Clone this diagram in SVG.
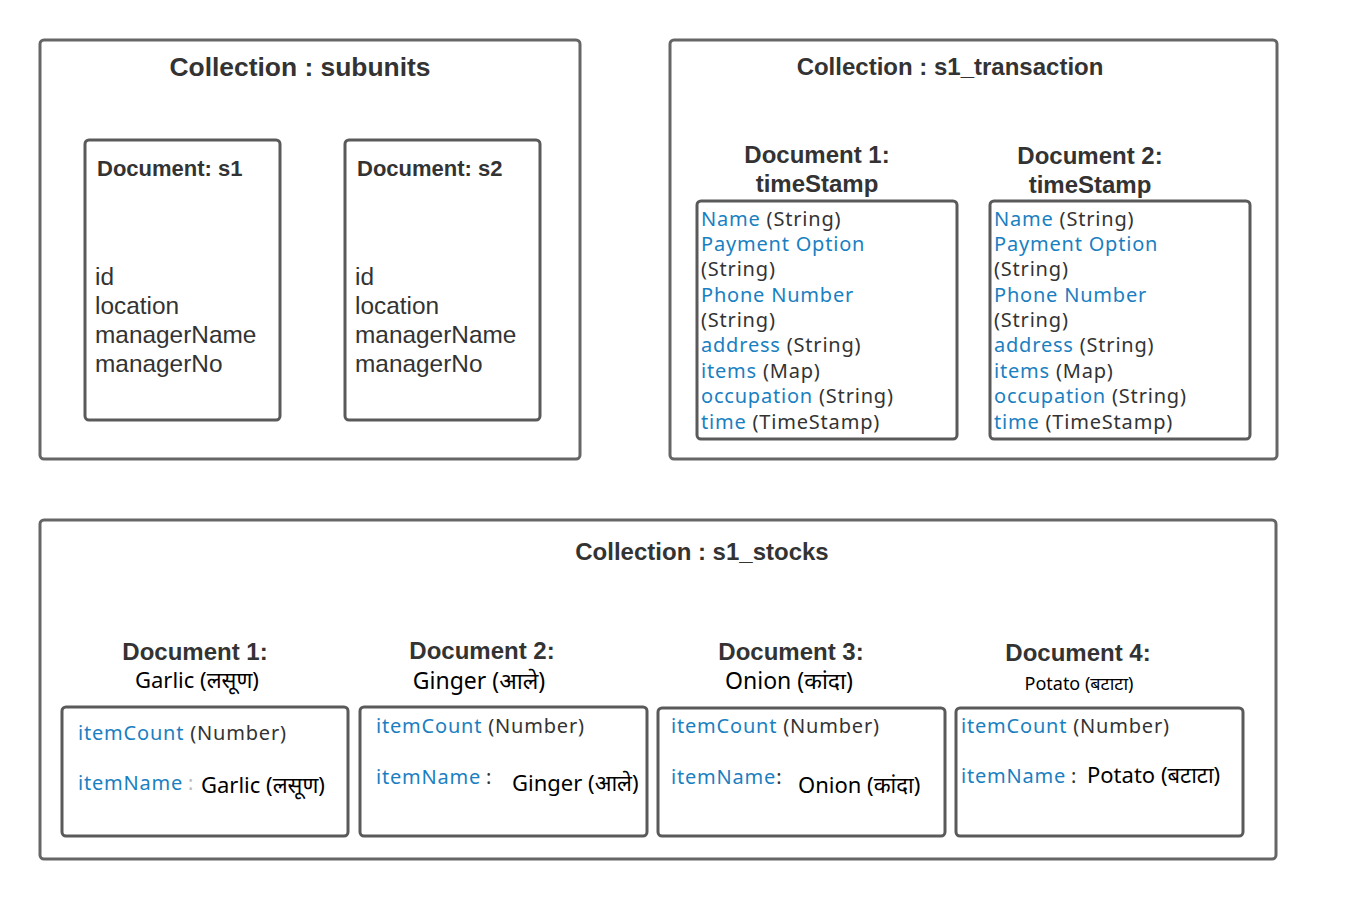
<svg xmlns="http://www.w3.org/2000/svg" width="1350" height="900" viewBox="0 0 1350 900">
<style>
.coll{fill:#fff;stroke:#666;stroke-width:3}
.doc{fill:#fff;stroke:#5a5a5a;stroke-width:3}
.ttl{font-family:"Liberation Sans",Arial,sans-serif;font-weight:bold;font-size:24px;fill:#333}
.hdr{font-family:"Liberation Sans",Arial,sans-serif;font-weight:bold;font-size:24px;fill:#333}
.dh{font-family:"Liberation Sans",Arial,sans-serif;font-weight:bold;font-size:22px;fill:#333}
.fld{font-family:"Liberation Sans",Arial,sans-serif;font-size:24.4px;fill:#333}
.f{font-family:"Noto Sans","DejaVu Sans",sans-serif;font-size:20px;letter-spacing:0.8px;fill:#333}
.k{fill:#1a7fc1}
.v{font-family:"Noto Sans","DejaVu Sans",sans-serif;font-size:22px;fill:#000}
</style>
<rect width="1350" height="900" fill="#fff"/>
<g id="connectors"/>
<g id="subunits">
<rect class="coll" x="40" y="40" width="540" height="419" rx="4"/>
<text class="ttl" x="300" y="76" text-anchor="middle" style="font-size:26.4px">Collection : subunits</text>
</g>
<g id="doc-s1">
<rect class="doc" x="85" y="140" width="195" height="280" rx="4"/>
<text class="dh" x="97" y="176">Document: s1</text>
<text class="fld" x="95" y="285">id</text>
<text class="fld" x="95" y="314">location</text>
<text class="fld" x="95" y="343">managerName</text>
<text class="fld" x="95" y="372">managerNo</text>
</g>
<g id="doc-s2">
<rect class="doc" x="345" y="140" width="195" height="280" rx="4"/>
<text class="dh" x="357" y="176">Document: s2</text>
<text class="fld" x="355" y="285">id</text>
<text class="fld" x="355" y="314">location</text>
<text class="fld" x="355" y="343">managerName</text>
<text class="fld" x="355" y="372">managerNo</text>
</g>
<g id="s1_transaction">
<rect class="coll" x="670" y="40" width="607" height="419" rx="4"/>
<text class="ttl" x="950" y="75" text-anchor="middle">Collection : s1_transaction</text>
</g>
<g id="tx-doc1">
<text class="hdr" x="817" y="163" text-anchor="middle">Document 1:</text>
<text class="hdr" x="817" y="192" text-anchor="middle">timeStamp</text>
<rect class="doc" x="697" y="201" width="260" height="238" rx="4"/>
<text class="f" x="701" y="226"><tspan class="k">Name</tspan> (String)</text>
<text class="f" x="701" y="251"><tspan class="k">Payment Option</tspan></text>
<text class="f" x="701" y="276">(String)</text>
<text class="f" x="701" y="302"><tspan class="k">Phone Number</tspan></text>
<text class="f" x="701" y="327">(String)</text>
<text class="f" x="701" y="352"><tspan class="k">address</tspan> (String)</text>
<text class="f" x="701" y="378"><tspan class="k">items</tspan> (Map)</text>
<text class="f" x="701" y="403"><tspan class="k">occupation</tspan> (String)</text>
<text class="f" x="701" y="429"><tspan class="k">time</tspan> (TimeStamp)</text>
</g>
<g id="tx-doc2">
<text class="hdr" x="1090" y="164" text-anchor="middle">Document 2:</text>
<text class="hdr" x="1090" y="193" text-anchor="middle">timeStamp</text>
<rect class="doc" x="990" y="201" width="260" height="238" rx="4"/>
<text class="f" x="994" y="226"><tspan class="k">Name</tspan> (String)</text>
<text class="f" x="994" y="251"><tspan class="k">Payment Option</tspan></text>
<text class="f" x="994" y="276">(String)</text>
<text class="f" x="994" y="302"><tspan class="k">Phone Number</tspan></text>
<text class="f" x="994" y="327">(String)</text>
<text class="f" x="994" y="352"><tspan class="k">address</tspan> (String)</text>
<text class="f" x="994" y="378"><tspan class="k">items</tspan> (Map)</text>
<text class="f" x="994" y="403"><tspan class="k">occupation</tspan> (String)</text>
<text class="f" x="994" y="429"><tspan class="k">time</tspan> (TimeStamp)</text>
</g>
<g id="s1_stocks">
<rect class="coll" x="40" y="520" width="1236" height="339" rx="4"/>
<text class="ttl" x="702" y="560" text-anchor="middle">Collection : s1_stocks</text>
</g>
<g id="stock-doc1">
<text class="hdr" x="195" y="660" text-anchor="middle">Document 1:</text>
<text class="v" x="197" y="688" text-anchor="middle">Garlic (लसूण)</text>
<rect class="doc" x="62" y="707" width="286" height="129" rx="4"/>
<text class="f" x="78" y="740"><tspan class="k">itemCount</tspan> (Number)</text>
<text class="f" x="78" y="790"><tspan class="k">itemName</tspan></text>
<text class="f" x="188" y="790" style="fill:#bbb">:</text>
<text class="v" x="201" y="793">Garlic (लसूण)</text>
</g>
<g id="stock-doc2">
<text class="hdr" x="482" y="659" text-anchor="middle">Document 2:</text>
<text class="v" x="479" y="689" text-anchor="middle" style="font-size:23px">Ginger (आले)</text>
<rect class="doc" x="360" y="707" width="287" height="129" rx="4"/>
<text class="f" x="376" y="733"><tspan class="k">itemCount</tspan> (Number)</text>
<text class="f" x="376" y="784"><tspan class="k">itemName</tspan></text>
<text class="f" x="486" y="784">:</text>
<text class="v" x="512" y="791">Ginger (आले)</text>
</g>
<g id="stock-doc3">
<text class="hdr" x="791" y="660" text-anchor="middle">Document 3:</text>
<text class="v" x="789" y="689" text-anchor="middle" style="font-size:23px">Onion (कांदा)</text>
<rect class="doc" x="658" y="708" width="287" height="128" rx="4"/>
<text class="f" x="671" y="733"><tspan class="k">itemCount</tspan> (Number)</text>
<text class="f" x="671" y="784"><tspan class="k">itemName</tspan>:</text>
<text class="v" x="798" y="793">Onion (कांदा)</text>
</g>
<g id="stock-doc4">
<text class="hdr" x="1078" y="661" text-anchor="middle">Document 4:</text>
<text class="v" x="1079" y="690" text-anchor="middle" style="font-size:18px">Potato (बटाटा)</text>
<rect class="doc" x="956" y="708" width="287" height="128" rx="4"/>
<text class="f" x="961" y="733"><tspan class="k">itemCount</tspan> (Number)</text>
<text class="f" x="961" y="783"><tspan class="k">itemName</tspan></text>
<text class="f" x="1071" y="783">:</text>
<text class="v" x="1087" y="783">Potato (बटाटा)</text>
</g>
</svg>
